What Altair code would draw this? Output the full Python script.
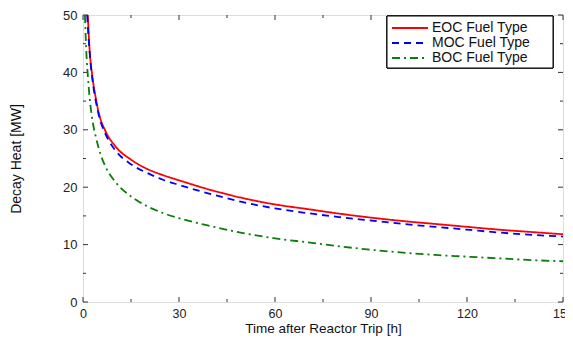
import altair as alt
import pandas as pd

# ---- data ----
series = ["EOC Fuel Type", "MOC Fuel Type", "BOC Fuel Type"]
colors = ["#ff0000", "#0000ff", "#0a7d0a"]
dashes = [[1, 0], [7, 5], [8, 4, 2, 4]]

t_eoc = [1.5, 2, 3, 4, 5, 7, 10, 15, 20, 25, 30, 40, 50, 60, 70, 80, 90, 100, 110, 120, 130, 140, 150]
eoc = [50, 44.5, 39, 35.5, 32.8, 29.8, 27.2, 24.8, 23.2, 22.1, 21.2, 19.5, 18.1, 17.0, 16.2, 15.4, 14.7, 14.1, 13.6, 13.1, 12.6, 12.2, 11.8]

t_moc = [1.3, 2, 3, 4, 5, 7, 10, 15, 20, 25, 30, 40, 50, 60, 70, 80, 90, 100, 110, 120, 130, 140, 150]
moc = [50, 44, 38.5, 35, 32.4, 29.3, 26.5, 24.0, 22.5, 21.3, 20.4, 18.8, 17.4, 16.3, 15.5, 14.8, 14.2, 13.6, 13.1, 12.6, 12.1, 11.7, 11.4]

t_boc = [0.6, 1, 1.5, 2, 3, 4, 5, 7, 10, 15, 20, 25, 30, 40, 50, 60, 70, 80, 90, 100, 110, 120, 130, 140, 150]
boc = [50, 44, 39.5, 36, 31.5, 28.8, 26.6, 23.6, 21, 18.4, 16.7, 15.5, 14.6, 13.2, 12.0, 11.1, 10.4, 9.7, 9.1, 8.6, 8.2, 7.9, 7.6, 7.3, 7.1]

x_major = [0, 30, 60, 90, 120, 150]
x_minor = [15, 45, 75, 105, 135]
y_major = [0, 10, 20, 30, 40, 50]
y_minor = [5, 15, 25, 35, 45]

W, H = 480, 287

rows = []
for name, ts, vs in [(series[0], t_eoc, eoc), (series[1], t_moc, moc), (series[2], t_boc, boc)]:
    for t, v in zip(ts, vs):
        rows.append({"t": t, "heat": v, "fuel": name})
df = pd.DataFrame(rows)
leg = pd.DataFrame({"fuel": series})

xscale = alt.Scale(domain=[0, 150], nice=False, zero=False)
yscale = alt.Scale(domain=[0, 50], nice=False)
cscale = alt.Scale(domain=series, range=colors)
dscale = alt.Scale(domain=series, range=dashes)

lines = alt.Chart(df).mark_line(strokeWidth=1.8, clip=True, interpolate="monotone").encode(
    x=alt.X("t:Q", scale=xscale,
            axis=alt.Axis(title="Time after Reactor Trip [h]", values=x_major, ticks=False, tickSize=0,
                          domain=False, grid=False, labelFontSize=12.5, labelPadding=5,
                          titleFontSize=13.5, titleFontWeight="normal", titleY=19,
                          labelColor="#222", titleColor="#111", labelFlush=False)),
    y=alt.Y("heat:Q", scale=yscale,
            axis=alt.Axis(title="Decay Heat [MW]", values=y_major, ticks=False, tickSize=0,
                          domain=False, grid=False, labelFontSize=13, labelPadding=6,
                          titleFontSize=14, titleFontWeight="normal", titleX=-60,
                          labelColor="#222", titleColor="#111")),
    color=alt.Color("fuel:N", scale=cscale, legend=None),
    strokeDash=alt.StrokeDash("fuel:N", scale=dscale, legend=None),
)

xt_major = pd.DataFrame({"v": x_major})
xt_minor = pd.DataFrame({"v": x_minor})
yt_major = pd.DataFrame({"v": y_major})
yt_minor = pd.DataFrame({"v": y_minor})

def xticks(d, length):
    bot = alt.Chart(d).mark_rule(color="#333").encode(
        x=alt.X("v:Q", scale=xscale), y=alt.value(H), y2=alt.value(H - length))
    top = alt.Chart(d).mark_rule(color="#333").encode(
        x=alt.X("v:Q", scale=xscale), y=alt.value(0), y2=alt.value(length))
    return bot + top

def yticks(d, length):
    left = alt.Chart(d).mark_rule(color="#333").encode(
        y=alt.Y("v:Q", scale=yscale), x=alt.value(0), x2=alt.value(length))
    right = alt.Chart(d).mark_rule(color="#333").encode(
        y=alt.Y("v:Q", scale=yscale), x=alt.value(W), x2=alt.value(W - length))
    return left + right

# legend (drawn as a small layered box, top-right)
leg_layers = [alt.Chart(leg).mark_rect(fill="white", stroke="black", strokeWidth=1).encode(
    x=alt.value(304), x2=alt.value(470), y=alt.value(1), y2=alt.value(53))]
for i, s in enumerate(series):
    yy = 13 + 15 * i
    leg_layers.append(
        alt.Chart(leg).transform_filter(alt.datum.fuel == s).mark_rule(strokeWidth=1.8).encode(
            x=alt.value(309), x2=alt.value(345), y=alt.value(yy),
            color=alt.Color("fuel:N", scale=cscale, legend=None),
            strokeDash=alt.StrokeDash("fuel:N", scale=dscale, legend=None)))
    leg_layers.append(
        alt.Chart(leg).transform_filter(alt.datum.fuel == s).mark_text(
            align="left", baseline="middle", fontSize=14, color="#111", font="Liberation Sans").encode(
            x=alt.value(349), y=alt.value(yy), text="fuel:N"))

chart = alt.layer(
    xticks(xt_major, 5), xticks(xt_minor, 3), yticks(yt_major, 5), yticks(yt_minor, 3), lines,
    *leg_layers
).properties(
    width=W, height=H,
    autosize=alt.AutoSizeParams(type="none"),
    padding={"left": 75, "top": 7, "right": 2, "bottom": 35},
).configure_view(
    stroke="#222", strokeWidth=1.2
).configure(
    font="Liberation Sans"
)

chart.save("out.html", embed_options={"renderer": "svg", "actions": False})
